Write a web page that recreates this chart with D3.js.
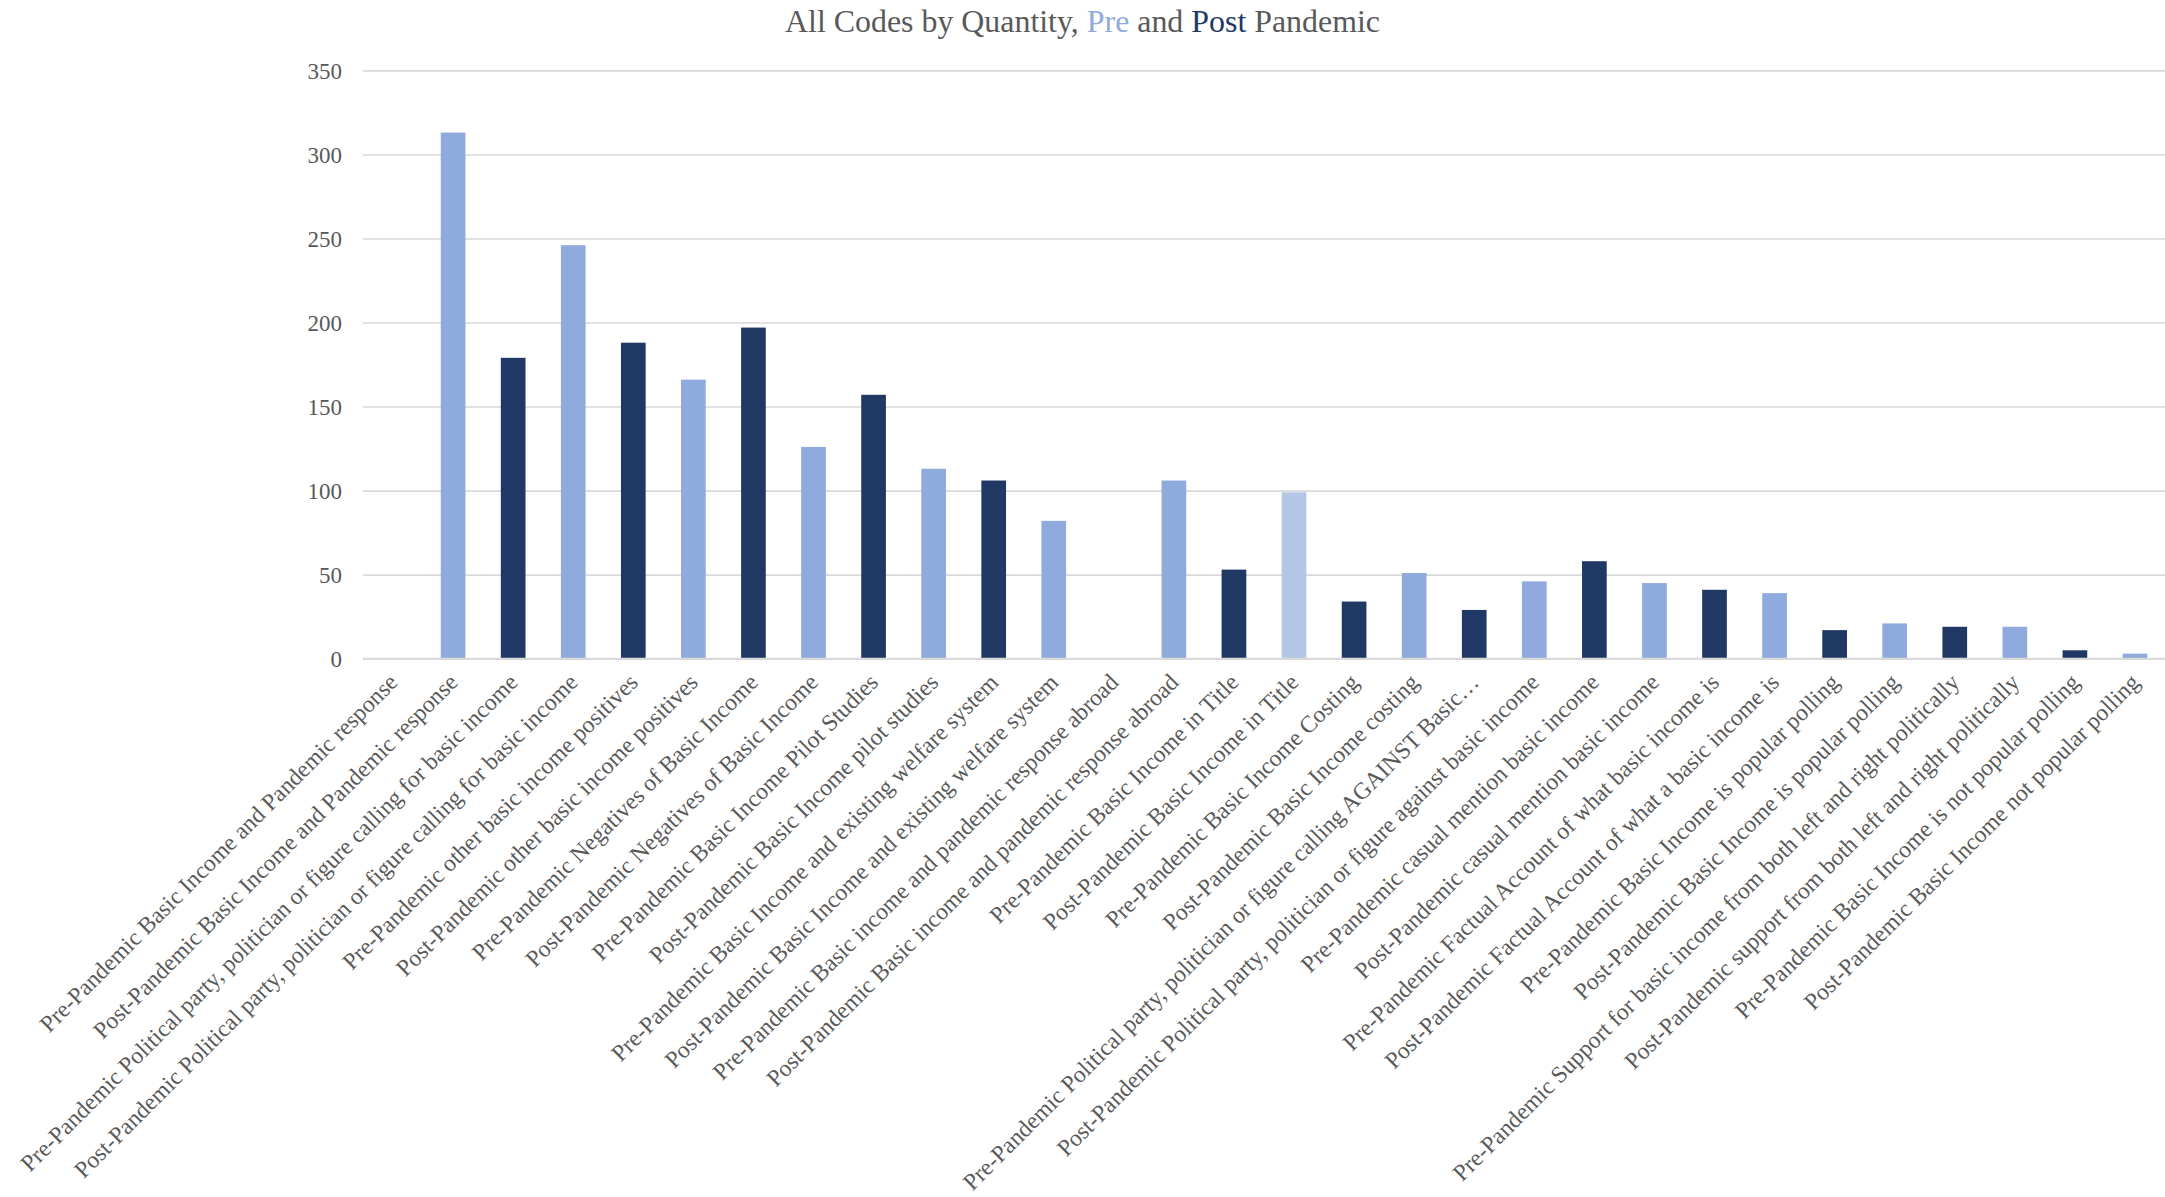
<!DOCTYPE html>
<html>
<head>
<meta charset="utf-8">
<script src="https://cdn.jsdelivr.net/npm/d3@7"></script>
<style>
  html, body { margin: 0; padding: 0; background: #ffffff; }
  svg { display: block; }
</style>
</head>
<body>
<svg id="chart" width="2165" height="1197"></svg>
<script>
// Coded article categories, in the order they appear along the axis
const codeLabels = [
  "Pre-Pandemic Basic Income and Pandemic response",
  "Post-Pandemic Basic Income and Pandemic response",
  "Pre-Pandemic Political party, politician or figure calling for basic income",
  "Post-Pandemic Political party, politician or figure calling for basic income",
  "Pre-Pandemic other basic income positives",
  "Post-Pandemic other basic income positives",
  "Pre-Pandemic Negatives of Basic Income",
  "Post-Pandemic Negatives of Basic Income",
  "Pre-Pandemic Basic Income Pilot Studies",
  "Post-Pandemic Basic Income pilot studies",
  "Pre-Pandemic Basic Income and existing welfare system",
  "Post-Pandemic Basic Income and existing welfare system",
  "Pre-Pandemic Basic income and pandemic response abroad",
  "Post-Pandemic Basic income and pandemic response abroad",
  "Pre-Pandemic Basic Income in Title",
  "Post-Pandemic Basic Income in Title",
  "Pre-Pandemic Basic Income Costing",
  "Post-Pandemic Basic Income costing",
  "Pre-Pandemic Political party, politician or figure calling AGAINST Basic\u2026",
  "Post-Pandemic Political party, politician or figure against basic income",
  "Pre-Pandemic casual mention basic income",
  "Post-Pandemic casual mention basic income",
  "Pre-Pandemic Factual Account of what basic income is",
  "Post-Pandemic Factual Account of what a basic income is",
  "Pre-Pandemic Basic Income is popular polling",
  "Post-Pandemic Basic Income is popular polling",
  "Pre-Pandemic Support for basic income from both left and right politically",
  "Post-Pandemic support from both left and right politically",
  "Pre-Pandemic Basic Income is not popular polling",
  "Post-Pandemic Basic Income not popular polling"
];

// Number of coded references per category (null = no bar)
const codeCounts = [
  null, 313, 179, 246, 188, 166, 197, 126, 157, 113,
  106, 82, null, 106, 53, 99, 34, 51, 29, 46,
  58, 45, 41, 39, 17, 21, 19, 19, 5, 3
];

// Shade used for each bar
const barShades = [
  null, "light", "dark", "light", "dark", "light", "dark", "light", "dark", "light",
  "dark", "light", null, "light", "dark", "pale", "dark", "light", "dark", "light",
  "dark", "light", "dark", "light", "dark", "light", "dark", "light", "dark", "light"
];

const yTickValues = [0, 50, 100, 150, 200, 250, 300, 350];

const shadeColors = { light: "#8FAADC", dark: "#203864", pale: "#B4C7E7" };
const textGrey = "#595959";
const fontFamily = "'Liberation Serif', 'Times New Roman', serif";

const width = 2165, height = 1197;
const plot = { left: 363, right: 2165, top: 70.4, bottom: 658.7 };

const svg = d3.select("#chart");
svg.append("rect").attr("width", width).attr("height", height).attr("fill", "#ffffff");

const rows = codeLabels.map((label, i) => ({ idx: i, label, value: codeCounts[i], shade: barShades[i] }));

const x = d3.scaleBand()
  .domain(d3.range(codeLabels.length))
  .range([plot.left, plot.right])
  .paddingInner(0.589)
  .paddingOuter(0.2945);

const y = d3.scaleLinear().domain([0, 350]).range([plot.bottom, plot.top]);

// Horizontal gridlines with value labels
const yAxis = d3.axisLeft(y)
  .tickValues(yTickValues)
  .tickSize(-(plot.right - plot.left))
  .tickPadding(21)
  .tickFormat(d3.format("d"));

const yg = svg.append("g")
  .attr("transform", `translate(${plot.left},0)`)
  .call(yAxis);
yg.select(".domain").remove();
yg.selectAll(".tick line").attr("stroke", "#D9D9D9").attr("stroke-width", 1.6);
yg.selectAll(".tick text")
  .attr("fill", textGrey)
  .attr("font-family", fontFamily)
  .attr("font-size", 23)
  .attr("dy", "0.34em");

// Bars
svg.append("g")
  .selectAll("rect")
  .data(rows.filter(d => d.value != null))
  .join("rect")
  .attr("x", d => x(d.idx))
  .attr("width", x.bandwidth())
  .attr("y", d => y(d.value))
  .attr("height", d => y(0) - y(d.value))
  .attr("fill", d => shadeColors[d.shade]);

// Baseline drawn over the bar feet
svg.append("line")
  .attr("x1", plot.left).attr("x2", plot.right)
  .attr("y1", y(0)).attr("y2", y(0))
  .attr("stroke", "#D9D9D9").attr("stroke-width", 2);

// Rotated category labels
const slotCenter = i => x(i) + x.bandwidth() / 2;
svg.append("g")
  .selectAll("text")
  .data(codeLabels)
  .join("text")
  .attr("transform", (d, i) => `translate(${slotCenter(i) + 6},${plot.bottom + 25}) rotate(-45)`)
  .attr("text-anchor", "end")
  .attr("fill", textGrey)
  .attr("font-family", fontFamily)
  .attr("font-size", 23.6)
  .text(d => d);

// Title with coloured period words
const title = svg.append("text")
  .attr("x", width / 2)
  .attr("y", 32)
  .attr("text-anchor", "middle")
  .attr("font-family", fontFamily)
  .attr("font-size", 31.9)
  .attr("fill", textGrey);
title.append("tspan").text("All Codes by Quantity, ");
title.append("tspan").attr("fill", shadeColors.light).text("Pre");
title.append("tspan").text(" and ");
title.append("tspan").attr("fill", shadeColors.dark).text("Post");
title.append("tspan").text(" Pandemic");
</script>
</body>
</html>
